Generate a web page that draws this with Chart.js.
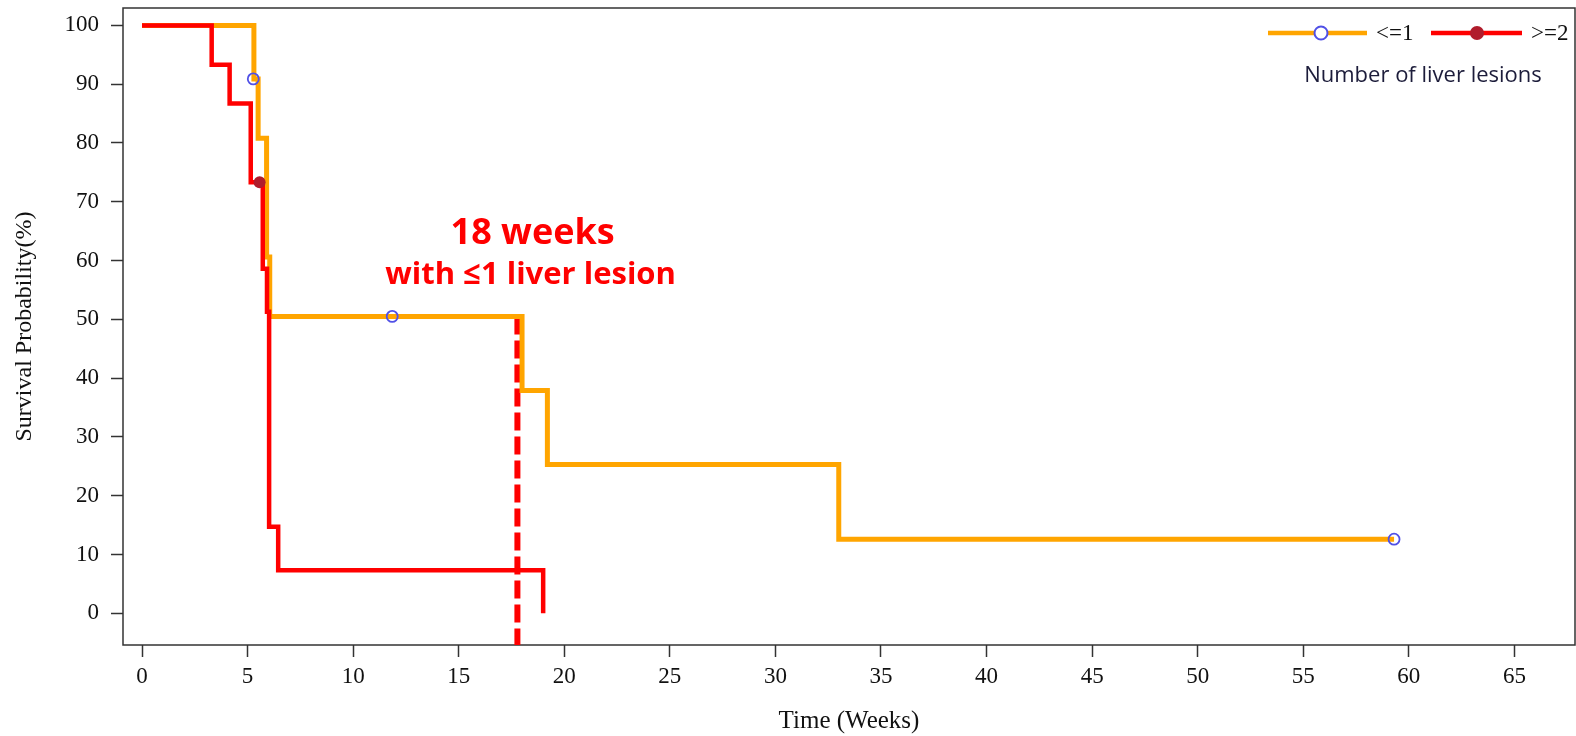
<!DOCTYPE html>
<html>
<head>
<meta charset="utf-8">
<title>Survival by number of liver lesions</title>
<script src="https://cdn.jsdelivr.net/npm/chart.js@4.4.1/dist/chart.umd.min.js"></script>
<style>
  html, body { margin: 0; padding: 0; background: #fff; }
  canvas { display: block; }
</style>
</head>
<body>
<canvas id="kmChart" width="1576" height="736"></canvas>
<script>
// == Data ==
const seriesLabels = ["<=1", ">=2"];
const legendTitle = "Number of liver lesions";

const lowWeeks = [0, 5.3, 5.5, 5.9, 6.05, 18.0, 19.2, 33.0, 59.3];
const lowSurvival = [100, 90.9, 80.8, 60.6, 50.5, 37.9, 25.3, 12.6, 12.6];
const lowCensorWeeks = [5.27, 11.85, 59.3];
const lowCensorSurvival = [90.9, 50.5, 12.6];

const highWeeks = [0, 3.3, 4.15, 5.15, 5.72, 5.92, 6.02, 6.45, 19.0];
const highSurvival = [100, 93.3, 86.7, 73.3, 58.6, 51.3, 14.7, 7.3, 0];
const highCensorWeeks = [5.57];
const highCensorSurvival = [73.3];

const medianWeeks = 17.78;
const medianSurvival = 50.5;
const annotationLines = ["18 weeks", "with \u22641 liver lesion"];

const xTicks = [0, 5, 10, 15, 20, 25, 30, 35, 40, 45, 50, 55, 60, 65];
const yTicks = [0, 10, 20, 30, 40, 50, 60, 70, 80, 90, 100];
const xRange = [-0.9, 67.87];
const yRange = [-5.4, 102.96];

// == Colours / fonts ==
const ORANGE = "#FFA500";
const RED = "#FF0000";
const CENSOR_BLUE = "#5050E6";
const CENSOR_RED = "#B01C2C";
const AXIS = "#333333";
const SERIF = "'Liberation Serif', 'Times New Roman', serif";
const SANS = "'Open Sans', 'Liberation Sans', sans-serif";

function toPoints(xs, ys) {
  return xs.map((x, i) => ({ x: x, y: ys[i] }));
}

// == Plugins ==
const frame = {
  id: "frame",
  beforeDatasetsDraw(chart) {
    const { ctx, chartArea: a } = chart;
    ctx.save();
    ctx.strokeStyle = AXIS;
    ctx.lineWidth = 1.5;
    ctx.strokeRect(a.left, a.top, a.right - a.left, a.bottom - a.top);
    ctx.restore();
  }
};

const extras = {
  id: "extras",
  afterDraw(chart) {
    const ctx = chart.ctx;
    const xs = chart.scales.x;
    ctx.save();

    // annotation
    ctx.fillStyle = RED;
    ctx.textAlign = "center";
    ctx.textBaseline = "alphabetic";
    const cx = xs.getPixelForValue(18.5);
    ctx.font = "bold 36px " + SANS;
    ctx.fillText(annotationLines[0], cx, 244);
    ctx.font = "bold 31px " + SANS;
    ctx.fillText(annotationLines[1], cx - 2, 284);

    // legend
    const ly = 33;
    ctx.lineWidth = 4.5;
    ctx.strokeStyle = ORANGE;
    ctx.beginPath(); ctx.moveTo(1268, ly); ctx.lineTo(1367, ly); ctx.stroke();
    ctx.fillStyle = "#fff";
    ctx.strokeStyle = CENSOR_BLUE;
    ctx.lineWidth = 2;
    ctx.beginPath(); ctx.arc(1321, ly, 6.5, 0, Math.PI * 2); ctx.fill(); ctx.stroke();

    ctx.lineWidth = 4.5;
    ctx.strokeStyle = RED;
    ctx.beginPath(); ctx.moveTo(1431, ly); ctx.lineTo(1522, ly); ctx.stroke();
    ctx.fillStyle = CENSOR_RED;
    ctx.beginPath(); ctx.arc(1477, ly, 7, 0, Math.PI * 2); ctx.fill();

    ctx.fillStyle = "#111";
    ctx.textAlign = "left";
    ctx.textBaseline = "middle";
    ctx.font = "23px " + SERIF;
    ctx.fillText(seriesLabels[0], 1376, ly + 1);
    ctx.fillText(seriesLabels[1], 1531, ly + 1);

    ctx.fillStyle = "#1c1c3a";
    ctx.textAlign = "center";
    ctx.font = "22px " + SANS;
    ctx.fillText(legendTitle, 1423, 76);

    ctx.restore();
  }
};

// == Chart ==
const ctx = document.getElementById("kmChart").getContext("2d");
new Chart(ctx, {
  type: "line",
  data: {
    datasets: [
      {
        label: seriesLabels[0] + " censored",
        type: "scatter",
        data: toPoints(lowCensorWeeks, lowCensorSurvival),
        pointRadius: 5.5,
        pointBorderWidth: 1.8,
        pointBackgroundColor: "rgba(255,255,255,0)",
        pointBorderColor: CENSOR_BLUE,
        showLine: false,
        order: 0
      },
      {
        label: seriesLabels[1] + " censored",
        type: "scatter",
        data: toPoints(highCensorWeeks, highCensorSurvival),
        pointRadius: 6,
        pointBorderWidth: 0,
        pointBackgroundColor: CENSOR_RED,
        showLine: false,
        order: 0
      },
      {
        label: seriesLabels[1],
        data: toPoints(highWeeks, highSurvival),
        borderColor: RED,
        borderWidth: 4.5,
        stepped: "before",
        pointRadius: 0,
        borderCapStyle: "butt",
        borderJoinStyle: "miter",
        order: 1
      },
      {
        label: seriesLabels[0],
        data: toPoints(lowWeeks, lowSurvival),
        borderColor: ORANGE,
        borderWidth: 5,
        stepped: "before",
        pointRadius: 0,
        borderCapStyle: "butt",
        borderJoinStyle: "miter",
        order: 2
      },
      {
        label: "median",
        data: [{ x: medianWeeks, y: medianSurvival }, { x: medianWeeks, y: yRange[0] }],
        borderColor: RED,
        borderWidth: 6,
        borderDash: [18, 6],
        pointRadius: 0,
        order: 3
      }
    ]
  },
  options: {
    responsive: false,
    animation: false,
    devicePixelRatio: 1,
    layout: { autoPadding: false, padding: { top: 8, right: 1, left: 0, bottom: 0 } },
    plugins: {
      legend: { display: false },
      tooltip: { enabled: false }
    },
    scales: {
      x: {
        type: "linear",
        min: xRange[0],
        max: xRange[1],
        afterBuildTicks: (s) => { s.ticks = xTicks.map(v => ({ value: v })); },
        afterFit: (s) => { s.height = 91; s.paddingLeft = 0; s.paddingRight = 0; },
        border: { display: false },
        grid: {
          drawOnChartArea: false,
          drawTicks: true,
          tickLength: 12,
          tickColor: AXIS,
          tickWidth: 1.5
        },
        ticks: {
          color: "#111",
          padding: 6,
          maxRotation: 0,
          font: { family: SERIF, size: 23 }
        },
        title: {
          display: true,
          text: "Time (Weeks)",
          color: "#111",
          padding: { top: 0, bottom: 0 },
          font: { family: SERIF, size: 25 }
        }
      },
      y: {
        type: "linear",
        min: yRange[0],
        max: yRange[1],
        afterBuildTicks: (s) => { s.ticks = yTicks.map(v => ({ value: v })); },
        afterFit: (s) => { s.width = 123; s.paddingTop = 0; s.paddingBottom = 0; },
        border: { display: false },
        grid: {
          drawOnChartArea: false,
          drawTicks: true,
          tickLength: 12,
          tickColor: AXIS,
          tickWidth: 1.5
        },
        ticks: {
          color: "#111",
          padding: 12,
          font: { family: SERIF, size: 23 }
        },
        title: {
          display: true,
          text: "Survival Probability(%)",
          color: "#111",
          padding: { top: 10, bottom: 0 },
          font: { family: SERIF, size: 24 }
        }
      }
    }
  },
  plugins: [frame, extras]
});
</script>
</body>
</html>
